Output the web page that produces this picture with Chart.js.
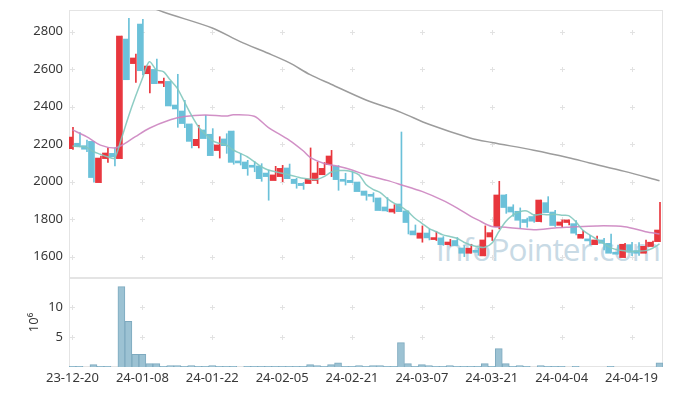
<!DOCTYPE html>
<html>
<head>
<meta charset="utf-8">
<script src="https://cdn.jsdelivr.net/npm/chart.js@4"></script>
<style>
  html, body { margin: 0; padding: 0; background: #fff; }
  #wrap { position: relative; width: 673px; height: 396px; overflow: hidden; }
  #mark {
    position: absolute; left: 436px; top: 227px;
    font-family: "Open Sans"; font-size: 31.5px; letter-spacing: -0.8px;
    color: rgb(200, 218, 229); white-space: nowrap;
  }
  #priceBox { position: absolute; left: 0; top: 0; }
  #volBox { position: absolute; left: 0; top: 278px; }
</style>
</head>
<body>
<div id="wrap">
  <div id="mark">InfoPointer.com</div>
  <canvas id="priceBox" width="673" height="280"></canvas>
  <canvas id="volBox" width="673" height="118"></canvas>
</div>
<script>
// x ticks every 10 trading days
const tickLabels = ["23-12-20", "24-01-08", "24-01-22", "24-02-05", "24-02-21",
    "24-03-07", "24-03-21", "24-04-04", "24-04-19"];
const priceTicks = [1600, 1800, 2000, 2200, 2400, 2600, 2800];
const volTicks = [5, 10];

const opens = [2176, 2205, 2192, 2215, 1995, 2123, 2151, 2123, 2761, 2630,
    2841, 2576, 2599, 2525, 2535, 2409, 2377, 2308, 2192, 2276,
    2253, 2166, 2228, 2270, 2107, 2105, 2080, 2084, 2046, 2006,
    2027, 2073, 2013, 1991, 1990, 2006, 2037, 2091, 2082, 2007,
    2007, 1998, 1950, 1927, 1913, 1865, 1838, 1881, 1844, 1737,
    1698, 1726, 1691, 1700, 1664, 1686, 1646, 1618, 1630, 1604,
    1705, 1760, 1929, 1865, 1842, 1798, 1814, 1787, 1888, 1838,
    1767, 1782, 1776, 1698, 1689, 1664, 1689, 1671, 1620, 1595,
    1664, 1632, 1618, 1654, 1680];
const closes = [2238, 2187, 2173, 2022, 2126, 2153, 2132, 2777, 2544, 2660,
    2592, 2617, 2523, 2535, 2404, 2388, 2310, 2215, 2226, 2230,
    2139, 2196, 2192, 2103, 2100, 2069, 2077, 2016, 2027, 2036,
    2071, 2016, 1990, 1979, 2014, 2046, 2071, 2137, 2011, 2002,
    1995, 1947, 1927, 1922, 1846, 1844, 1854, 1840, 1782, 1716,
    1726, 1700, 1700, 1664, 1678, 1659, 1618, 1645, 1623, 1689,
    1728, 1929, 1862, 1838, 1794, 1782, 1789, 1902, 1835, 1766,
    1785, 1796, 1725, 1719, 1684, 1689, 1671, 1618, 1613, 1666,
    1623, 1618, 1655, 1677, 1742];
const highs = [2290, 2262, 2222, 2215, 2137, 2181, 2181, 2777, 2871, 2681,
    2866, 2617, 2654, 2553, 2535, 2573, 2434, 2308, 2301, 2354,
    2283, 2240, 2256, 2270, 2151, 2114, 2107, 2096, 2062, 2082,
    2087, 2094, 2018, 1996, 2180, 2105, 2102, 2167, 2086, 2045,
    2052, 1998, 1950, 1941, 1913, 1915, 1877, 2265, 1844, 1769,
    1764, 1746, 1733, 1707, 1692, 1702, 1659, 1666, 1645, 1764,
    1742, 2002, 1932, 1877, 1860, 1806, 1825, 1902, 1920, 1847,
    1796, 1796, 1792, 1739, 1714, 1710, 1698, 1720, 1662, 1671,
    1676, 1675, 1689, 1683, 1890];
const lows = [2172, 2185, 2160, 1997, 1995, 2103, 2084, 2123, 2544, 2530,
    2569, 2473, 2523, 2507, 2404, 2290, 2288, 2180, 2180, 2230,
    2139, 2126, 2151, 2093, 2089, 2034, 2053, 2002, 1901, 2006,
    2000, 2016, 1965, 1959, 1990, 1990, 2037, 2027, 1954, 1982,
    1995, 1947, 1901, 1892, 1846, 1840, 1831, 1840, 1721, 1716,
    1677, 1689, 1686, 1660, 1657, 1659, 1600, 1618, 1607, 1604,
    1686, 1748, 1831, 1815, 1751, 1757, 1783, 1785, 1835, 1761,
    1757, 1769, 1716, 1698, 1662, 1664, 1636, 1618, 1613, 1595,
    1605, 1606, 1618, 1654, 1680];

// volume in millions
const volumes = [0.1, 0.1, 0, 0.4, 0.1, 0.1, 0, 13.4, 7.6, 2.1,
    2.1, 0.55, 0.55, 0.1, 0.22, 0.22, 0.1, 0.22, 0.1, 0.1,
    0.22, 0.1, 0.1, 0.1, 0, 0.1, 0.1, 0.1, 0.1, 0.1,
    0.1, 0.1, 0.1, 0.1, 0.4, 0.22, 0.1, 0.4, 0.7, 0.1,
    0.1, 0.22, 0.1, 0.22, 0.22, 0.1, 0.1, 4.05, 0.55, 0.1,
    0.4, 0.22, 0.1, 0.1, 0.22, 0.1, 0.1, 0.1, 0.1, 0.55,
    0.1, 3.05, 0.55, 0.1, 0.22, 0.1, 0, 0.22, 0.1, 0.1,
    0.1, 0, 0.1, 0, 0, 0, 0, 0.1, 0, 0,
    0, 0, 0, 0, 0.7];

const ma5 = [2190, 2188, 2183, 2160, 2146, 2133, 2125, 2230, 2347, 2453,
    2551, 2640, 2596, 2587, 2542, 2498, 2427, 2356, 2294, 2254,
    2219, 2205, 2196, 2169, 2151, 2133, 2107, 2080, 2062, 2053,
    2045, 2036, 2027, 2018, 2013, 2013, 2027, 2050, 2059, 2059,
    2053, 2036, 1985, 1959, 1943, 1911, 1885, 1867, 1840, 1805,
    1778, 1751, 1734, 1716, 1707, 1698, 1677, 1662, 1653, 1650,
    1671, 1733, 1787, 1822, 1840, 1844, 1822, 1826, 1824, 1826,
    1821, 1819, 1787, 1742, 1716, 1693, 1671, 1648, 1636, 1632,
    1627, 1629, 1632, 1645, 1668];

const ma20Idx = [0, 2, 4, 6, 7, 9, 11, 14, 16, 19, 22, 23, 26, 28, 31, 33, 34, 36, 38,
    40, 42, 45, 47, 50, 53, 55, 57, 58, 60, 62, 66, 69, 71, 75, 79, 82, 84];
const ma20Val = [2276, 2240, 2195, 2180, 2193, 2240, 2285, 2330, 2348, 2356, 2350, 2357, 2349,
    2290, 2222, 2165, 2130, 2097, 2082, 2062, 2036, 2007, 1984, 1948, 1900, 1860,
    1815, 1796, 1761, 1757, 1744, 1753, 1757, 1764, 1760, 1733, 1721];

const maLongIdx = [10, 13, 20, 24, 28, 31, 34, 37, 42, 47, 51, 57, 60, 66, 71, 74, 79, 84];
const maLongVal = [2950, 2905, 2820, 2747, 2685, 2635, 2571, 2520, 2436, 2370, 2306, 2232,
    2209, 2168, 2128, 2100, 2055, 2005];

const upColor = "#e8363d";
const downColor = "#6bc1d9";
const tickFont = { family: "Noto Sans", size: 13 };
const tickColor = "#383838";
const xTickValues = tickLabels.map((_, i) => i * 10);

const candleColor = (ctx) => closes[ctx.dataIndex] >= opens[ctx.dataIndex] ? upColor : downColor;

// drop the label overflow padding so the plot box sits where we want it
const noPad = (s) => {
    s.paddingTop = 0;
    s.paddingBottom = 0;
    s.paddingLeft = 0;
    s.paddingRight = 0;
};

// small "+" marks at grid crossings, and the light frame
const crossGrid = {
    id: "crossGrid",
    beforeDatasetsDraw(chart, args, opts) {
        const { ctx, chartArea: a, scales } = chart;
        ctx.save();
        ctx.strokeStyle = "#e2e2e2";
        ctx.lineWidth = 1;
        ctx.beginPath();
        for (const xv of xTickValues) {
            const x = Math.round(scales.x.getPixelForValue(xv)) + 0.5;
            for (const yv of opts.yValues) {
                const y = Math.round(scales.y.getPixelForValue(yv)) + 0.5;
                ctx.moveTo(x - 2.5, y);
                ctx.lineTo(x + 2.5, y);
                ctx.moveTo(x, y - 2.5);
                ctx.lineTo(x, y + 2.5);
            }
        }
        ctx.stroke();
        ctx.strokeStyle = "#e4e4e4";
        ctx.strokeRect(a.left + 0.5, a.top + 0.5, a.right - a.left - 1, a.bottom - a.top - 1);
        ctx.restore();
    },
};

const xScale = (show) => ({
    type: "linear",
    min: -0.5,
    max: 84.5,
    offset: false,
    display: show,
    grid: { display: false, drawTicks: false, offset: false },
    border: { display: false },
    afterBuildTicks: (s) => { s.ticks = xTickValues.map((v) => ({ value: v })); },
    afterFit: (s) => { s.height = show ? 29 : 0; noPad(s); },
    ticks: {
        font: tickFont,
        color: tickColor,
        padding: 3,
        maxRotation: 0,
        autoSkip: false,
        callback: (v) => tickLabels[v / 10],
    },
});

new Chart(document.getElementById("priceBox"), {
    type: "bar",
    data: {
        datasets: [
            {
                type: "line",
                data: ma5.map((v, i) => ({ x: i, y: v })),
                borderColor: "rgba(130, 200, 190, 0.9)",
                borderWidth: 1.5,
                pointRadius: 0,
                tension: 0.3,
                order: 0,
            },
            {
                type: "line",
                data: ma20Idx.map((x, i) => ({ x: x, y: ma20Val[i] })),
                borderColor: "rgba(204, 132, 192, 0.9)",
                borderWidth: 1.5,
                pointRadius: 0,
                tension: 0.3,
                order: 0,
            },
            {
                type: "line",
                data: maLongIdx.map((x, i) => ({ x: x, y: maLongVal[i] })),
                borderColor: "#9c9c9c",
                borderWidth: 1.5,
                pointRadius: 0,
                tension: 0.3,
                order: 0,
            },
            {
                data: opens.map((o, i) => ({ x: i, y: [o, closes[i]] })),
                backgroundColor: candleColor,
                barThickness: 5,
                minBarLength: 2,
                order: 1,
            },
            {
                data: lows.map((l, i) => ({ x: i, y: [l, highs[i]] })),
                backgroundColor: candleColor,
                barThickness: 1,
                order: 2,
            },
        ],
    },
    options: {
        responsive: false,
        animation: false,
        layout: { autoPadding: false, padding: { top: 10, right: 10, bottom: 2, left: 0 } },
        plugins: {
            legend: { display: false },
            tooltip: { enabled: false },
            crossGrid: { yValues: priceTicks },
        },
        scales: {
            x: xScale(false),
            y: {
                min: 1486,
                max: 2916,
                grid: { display: false, drawTicks: false },
                border: { display: false },
                afterBuildTicks: (s) => { s.ticks = priceTicks.map((v) => ({ value: v })); },
                afterFit: (s) => { s.width = 69; noPad(s); },
                ticks: { font: tickFont, color: tickColor, padding: 6, callback: (v) => String(v) },
            },
        },
    },
    plugins: [crossGrid],
});

new Chart(document.getElementById("volBox"), {
    type: "bar",
    data: {
        datasets: [
            {
                data: volumes.map((v, i) => ({ x: i, y: v })),
                backgroundColor: "#9cc2d3",
                borderColor: "#7eaabf",
                borderWidth: 1,
                barThickness: 7,
            },
        ],
    },
    options: {
        responsive: false,
        animation: false,
        layout: { autoPadding: false, padding: { top: 0, right: 10, bottom: 0, left: 0 } },
        plugins: {
            legend: { display: false },
            tooltip: { enabled: false },
            crossGrid: { yValues: volTicks },
        },
        scales: {
            x: xScale(true),
            y: {
                min: 0,
                max: 14.83,
                grid: { display: false, drawTicks: false },
                border: { display: false },
                afterBuildTicks: (s) => { s.ticks = volTicks.map((v) => ({ value: v })); },
                afterFit: (s) => { s.width = 69; noPad(s); },
                ticks: { font: tickFont, color: tickColor, padding: 6, callback: (v) => String(v) },
                title: {
                    display: true,
                    text: "10⁶",
                    font: tickFont,
                    color: tickColor,
                    padding: { top: 26, bottom: 0 },
                },
            },
        },
    },
    plugins: [crossGrid],
});
</script>
</body>
</html>
